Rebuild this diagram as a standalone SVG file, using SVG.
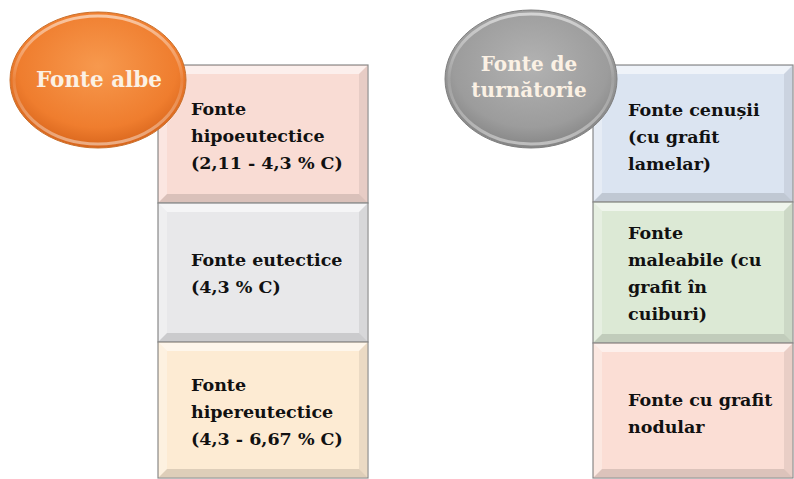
<svg xmlns="http://www.w3.org/2000/svg" width="794" height="479" viewBox="0 0 794 479">
<defs>
<radialGradient id="gOr" cx="50%" cy="40%" r="60%">
<stop offset="0" stop-color="#f7994e"/>
<stop offset="0.75" stop-color="#ef7d2e"/>
<stop offset="1" stop-color="#d8651c"/>
</radialGradient>
<radialGradient id="gGr" cx="50%" cy="40%" r="60%">
<stop offset="0" stop-color="#b2b2b2"/>
<stop offset="0.75" stop-color="#9c9c9c"/>
<stop offset="1" stop-color="#858585"/>
</radialGradient>
<linearGradient id="rim" x1="0" y1="0" x2="0" y2="1">
<stop offset="0" stop-color="#ffffff" stop-opacity="0.55"/>
<stop offset="0.5" stop-color="#ffffff" stop-opacity="0.1"/>
<stop offset="1" stop-color="#ffffff" stop-opacity="0.45"/>
</linearGradient>
</defs>
<style>
.box{stroke:#8a8a8a;stroke-width:1.2}
.hl{fill:#ffffff;opacity:0.55}
.hl2{fill:#ffffff;opacity:0.3}
.sh{fill:#000000;opacity:0.07}
.sh2{fill:#000000;opacity:0.12}
.t{font-family:"DejaVu Serif","Liberation Serif",serif;font-weight:bold;font-size:17.5px;fill:#111111}
.et{font-family:"DejaVu Serif","Liberation Serif",serif;font-weight:bold;font-size:20px;fill:#fbf1e4;text-anchor:middle}
</style>
<rect width="794" height="479" fill="#ffffff"/>

<!-- Left column -->
<g id="box-hipo">
<rect class="box" x="158" y="65" width="210" height="138" fill="#f9dcd4"/>
<polygon class="hl" points="159,66 367,66 359,74 167,74"/>
<polygon class="hl2" points="159,66 167,74 167,194 159,202"/>
<polygon class="sh" points="367,66 367,202 359,194 359,74"/>
<polygon class="sh2" points="159,202 167,194 359,194 367,202"/>
<text class="t" x="191" y="115">Fonte</text>
<text class="t" x="191" y="142">hipoeutectice</text>
<text class="t" x="191" y="169">(2,11 - 4,3 % C)</text>
</g>
<g id="box-eut">
<rect class="box" x="158" y="203" width="210" height="139" fill="#e8e8ea"/>
<polygon class="hl" points="159,204 367,204 359,212 167,212"/>
<polygon class="hl2" points="159,204 167,212 167,333 159,341"/>
<polygon class="sh" points="367,204 367,341 359,333 359,212"/>
<polygon class="sh2" points="159,341 167,333 359,333 367,341"/>
<text class="t" x="191" y="266">Fonte eutectice</text>
<text class="t" x="191" y="293">(4,3 % C)</text>
</g>
<g id="box-hiper">
<rect class="box" x="158" y="342" width="210" height="136" fill="#fdebd3"/>
<polygon class="hl" points="159,343 367,343 359,351 167,351"/>
<polygon class="hl2" points="159,343 167,351 167,469 159,477"/>
<polygon class="sh" points="367,343 367,477 359,469 359,351"/>
<polygon class="sh2" points="159,477 167,469 359,469 367,477"/>
<text class="t" x="191" y="391">Fonte</text>
<text class="t" x="191" y="418">hipereutectice</text>
<text class="t" x="191" y="445">(4,3 - 6,67 % C)</text>
</g>
<g id="fonte-albe">
<ellipse cx="98" cy="80" rx="88" ry="68" fill="url(#gOr)" stroke="#c9712e" stroke-width="1"/>
<ellipse cx="98" cy="80" rx="84" ry="64" fill="none" stroke="url(#rim)" stroke-width="3"/>
<text class="et" x="99" y="87" style="font-size:21.5px">Fonte albe</text>
</g>

<!-- Right column -->
<g id="box-cenusii">
<rect class="box" x="593" y="65" width="200" height="137" fill="#dbe4f1"/>
<polygon class="hl" points="594,66 792,66 784,74 602,74"/>
<polygon class="hl2" points="594,66 602,74 602,193 594,201"/>
<polygon class="sh" points="792,66 792,201 784,193 784,74"/>
<polygon class="sh2" points="594,201 602,193 784,193 792,201"/>
<text class="t" x="628" y="116">Fonte cenușii</text>
<text class="t" x="628" y="143">(cu grafit</text>
<text class="t" x="628" y="170">lamelar)</text>
</g>
<g id="box-maleabile">
<rect class="box" x="593" y="202" width="200" height="141" fill="#dce9d5"/>
<polygon class="hl" points="594,203 792,203 784,211 602,211"/>
<polygon class="hl2" points="594,203 602,211 602,334 594,342"/>
<polygon class="sh" points="792,203 792,342 784,334 784,211"/>
<polygon class="sh2" points="594,342 602,334 784,334 792,342"/>
<text class="t" x="628" y="239">Fonte</text>
<text class="t" x="628" y="266">maleabile (cu</text>
<text class="t" x="628" y="293">grafit în</text>
<text class="t" x="628" y="320">cuiburi)</text>
</g>
<g id="box-nodular">
<rect class="box" x="593" y="343" width="200" height="135" fill="#fbded5"/>
<polygon class="hl" points="594,344 792,344 784,352 602,352"/>
<polygon class="hl2" points="594,344 602,352 602,469 594,477"/>
<polygon class="sh" points="792,344 792,477 784,469 784,352"/>
<polygon class="sh2" points="594,477 602,469 784,469 792,477"/>
<text class="t" x="628" y="406">Fonte cu grafit</text>
<text class="t" x="628" y="433">nodular</text>
</g>
<g id="fonte-turnatorie">
<ellipse cx="531" cy="79" rx="86" ry="69" fill="url(#gGr)" stroke="#7f7f7f" stroke-width="1"/>
<ellipse cx="531" cy="79" rx="82" ry="65" fill="none" stroke="url(#rim)" stroke-width="3"/>
<text class="et" x="529" y="71">Fonte de</text>
<text class="et" x="529" y="97">turnătorie</text>
</g>
<g id="connectors"/>
</svg>
